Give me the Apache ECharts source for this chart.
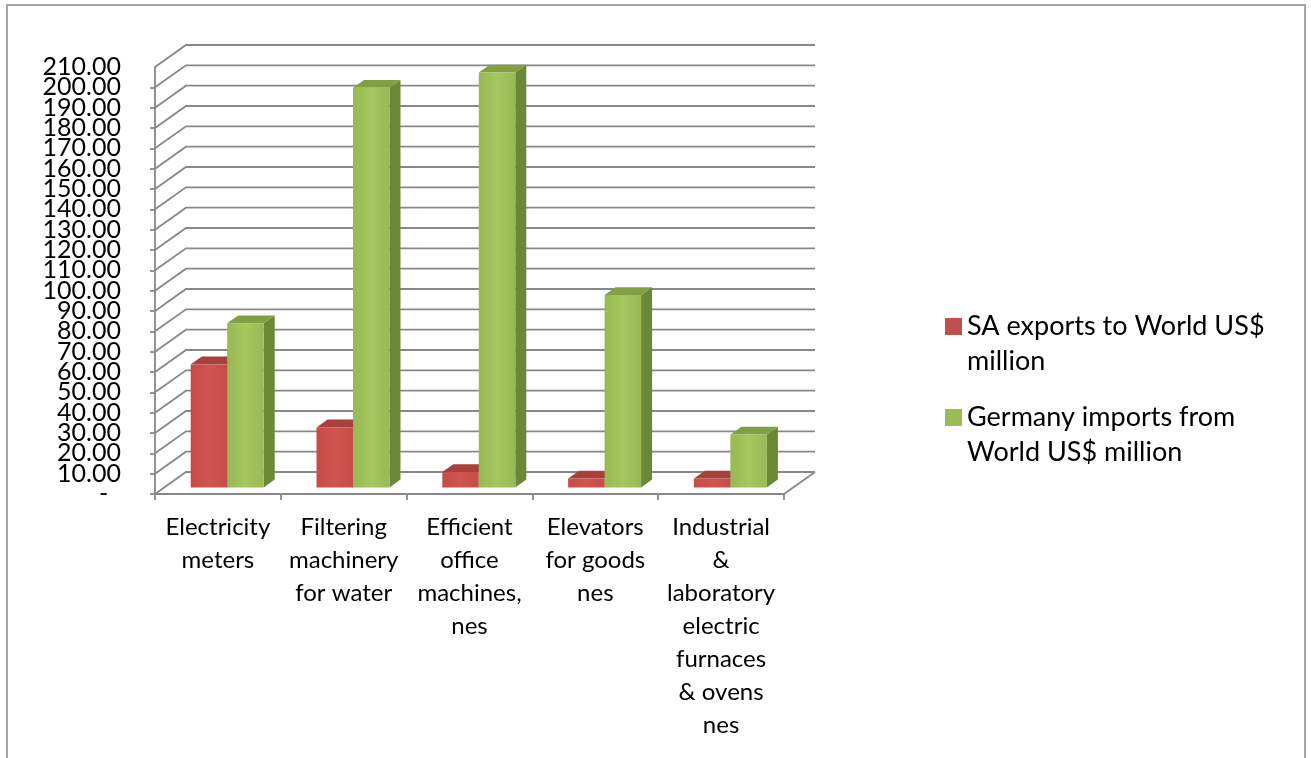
<!DOCTYPE html>
<html>
<head>
<meta charset="utf-8">
<script src="https://cdn.jsdelivr.net/npm/echarts@6/dist/echarts.min.js"></script>
<style>
  html, body { margin: 0; padding: 0; background: #ffffff; }
  #chart { width: 1311px; height: 758px; }
</style>
</head>
<body>
<div id="chart"></div>
<script>
// Product categories (wrapped as they appear under the axis)
const categories = [
  'Electricity\nmeters',
  'Filtering\nmachinery\nfor water',
  'Efficient\noffice\nmachines,\nnes',
  'Elevators\nfor goods\nnes',
  'Industrial\n&\nlaboratory\nelectric\nfurnaces\n& ovens\nnes'
];

// Series names (legend text)
const seriesNames = [
  'SA exports to World US$\nmillion',
  'Germany imports from\nWorld US$ million'
];

// Values, US$ million
const saExports = [60.5, 29.5, 7.6, 4.4, 4.4];
const germanyImports = [80.7, 196.5, 204.0, 94.6, 26.0];

// Value axis ticks
const valueTicks = [0, 10, 20, 30, 40, 50, 60, 70, 80, 90, 100, 110, 120, 130, 140, 150, 160, 170, 180, 190, 200, 210];

// Oblique projection of the chart depth (pixels)
const DEPTH_X = 31;
const DEPTH_Y = -22;
const BAR_FRONT = 0.30;   // fraction of depth where bar front faces sit
const BAR_DEPTH = 0.355;  // fraction of depth occupied by a bar
const BAR_WIDTH = 0.29;   // fraction of a category band per bar

const GRID_COLOR = '#888888';
const GRID_WIDTH = 1.8;
const FONT = 'Lato';

const palettes = [
  { front: ['#c64b48', '#cf5552', '#c74c49'], top: '#a8403d', side: '#8c3432', legend: '#c0504d' },
  { front: ['#97b855', '#a5c75e', '#98b956'], top: '#80a043', side: '#6a8836', legend: '#9bbb59' }
];

// Accounting-style tick text: zero shows as a dash
function tickText(v) {
  return v === 0 ? '-  ' : v.toFixed(2);
}

function wallItem(params, api) {
  const cs = params.coordSys;
  const v = api.value(1);
  const y = api.coord([0, v])[1];
  const x0 = cs.x;
  const x1 = cs.x + cs.width;
  const children = [{
    type: 'polyline',
    shape: { points: [[x0, y], [x0 + DEPTH_X, y + DEPTH_Y], [x1 + DEPTH_X, y + DEPTH_Y]] },
    style: { stroke: GRID_COLOR, lineWidth: GRID_WIDTH, fill: null }
  }];
  if (v === 0) {
    children.push({
      type: 'line',
      shape: { x1: x1, y1: y, x2: x1 + DEPTH_X, y2: y + DEPTH_Y },
      style: { stroke: GRID_COLOR, lineWidth: GRID_WIDTH }
    });
  }
  return { type: 'group', children: children };
}

function barRenderer(seriesIndex) {
  const pal = palettes[seriesIndex];
  return function (params, api) {
    const i = api.value(0);
    const v = api.value(1);
    const base = api.coord([i, 0]);
    const top = api.coord([i, v]);
    const band = api.size([1, 0])[0];
    const bw = band * BAR_WIDTH;
    const xl = seriesIndex === 0 ? base[0] - bw : base[0];
    const xr = xl + bw;
    const fx = BAR_FRONT * DEPTH_X, fy = BAR_FRONT * DEPTH_Y;
    const bx = BAR_DEPTH * DEPTH_X, by = BAR_DEPTH * DEPTH_Y;
    const yb = base[1] + fy, yt = top[1] + fy;
    const L = xl + fx, R = xr + fx;
    return {
      type: 'group',
      children: [
        {
          type: 'polygon',
          shape: { points: [[R, yb], [R, yt], [R + bx, yt + by], [R + bx, yb + by]] },
          style: { fill: pal.side }
        },
        {
          type: 'polygon',
          shape: { points: [[L, yt], [R, yt], [R + bx, yt + by], [L + bx, yt + by]] },
          style: { fill: pal.top }
        },
        {
          type: 'rect',
          shape: { x: L, y: yt, width: bw, height: yb - yt },
          style: {
            fill: {
              type: 'linear', x: 0, y: 0, x2: 1, y2: 0,
              colorStops: [
                { offset: 0, color: pal.front[0] },
                { offset: 0.5, color: pal.front[1] },
                { offset: 1, color: pal.front[2] }
              ]
            }
          }
        }
      ]
    };
  };
}

const valueAxisBase = {
  type: 'value',
  position: 'left',
  offset: 0,
  min: 0,
  max: 210,
  interval: 10,
  splitLine: { show: false }
};
const valueLabelBase = {
  margin: 34,
  hideOverlap: false,
  fontFamily: FONT,
  fontSize: 25,
  color: '#000000'
};

const chart = echarts.init(document.getElementById('chart'), null, { renderer: 'canvas' });

chart.setOption({
  backgroundColor: '#ffffff',
  animation: false,
  textStyle: { fontFamily: FONT },
  graphic: [{
    type: 'rect',
    shape: { x: 7, y: 5, width: 1298, height: 800 },
    style: { fill: null, stroke: '#a6a6a6', lineWidth: 2 },
    silent: true
  }],
  grid: { left: 155, right: 527, top: 67, bottom: 264, containLabel: false },
  legend: {
    orient: 'vertical',
    left: 945,
    top: 274,
    padding: 0,
    itemGap: -14,
    itemWidth: 17,
    itemHeight: 17,
    icon: 'rect',
    data: seriesNames,
    // a leading empty line keeps the first text line level with the swatch
    formatter: function (name) { return '\n' + name; },
    textStyle: {
      fontFamily: FONT,
      fontSize: 27,
      lineHeight: 35,
      color: '#000000'
    }
  },
  xAxis: {
    type: 'category',
    data: categories,
    boundaryGap: true,
    axisLine: { show: true, lineStyle: { color: GRID_COLOR, width: GRID_WIDTH } },
    axisTick: { show: true, alignWithLabel: false, length: 6, lineStyle: { color: GRID_COLOR, width: GRID_WIDTH } },
    axisLabel: {
      interval: 0,
      margin: 17,
      fontFamily: FONT,
      fontSize: 24,
      lineHeight: 33,
      color: '#000000'
    },
    splitLine: { show: false }
  },
  // The tick labels sit closer than their glyph height, so even and odd
  // multiples of ten are labelled by two overlaid axes sharing one scale.
  yAxis: [
    Object.assign({}, valueAxisBase, {
      axisLine: { show: true, lineStyle: { color: GRID_COLOR, width: GRID_WIDTH } },
      axisTick: { show: true, length: 5, lineStyle: { color: GRID_COLOR, width: GRID_WIDTH } },
      axisLabel: Object.assign({}, valueLabelBase, {
        showMinLabel: true,
        showMaxLabel: false,
        formatter: function (v) { return (Math.round(v) % 20 === 0) ? tickText(v) : ''; }
      })
    }),
    Object.assign({}, valueAxisBase, {
      axisLine: { show: false },
      axisTick: { show: false },
      axisLabel: Object.assign({}, valueLabelBase, {
        showMinLabel: false,
        showMaxLabel: true,
        formatter: function (v) { return (Math.round(v) % 20 === 10) ? tickText(v) : ''; }
      })
    })
  ],
  series: [
    {
      type: 'custom',
      name: 'walls',
      silent: true,
      renderItem: wallItem,
      data: valueTicks.map(function (t) { return [0, t]; }),
      encode: { x: 0, y: 1 },
      z: 1
    },
    {
      type: 'custom',
      name: seriesNames[0],
      renderItem: barRenderer(0),
      itemStyle: { color: palettes[0].legend },
      data: saExports.map(function (v, i) { return [i, v]; }),
      encode: { x: 0, y: 1 },
      z: 2
    },
    {
      type: 'custom',
      name: seriesNames[1],
      renderItem: barRenderer(1),
      itemStyle: { color: palettes[1].legend },
      data: germanyImports.map(function (v, i) { return [i, v]; }),
      encode: { x: 0, y: 1 },
      z: 2
    }
  ]
});
</script>
</body>
</html>
